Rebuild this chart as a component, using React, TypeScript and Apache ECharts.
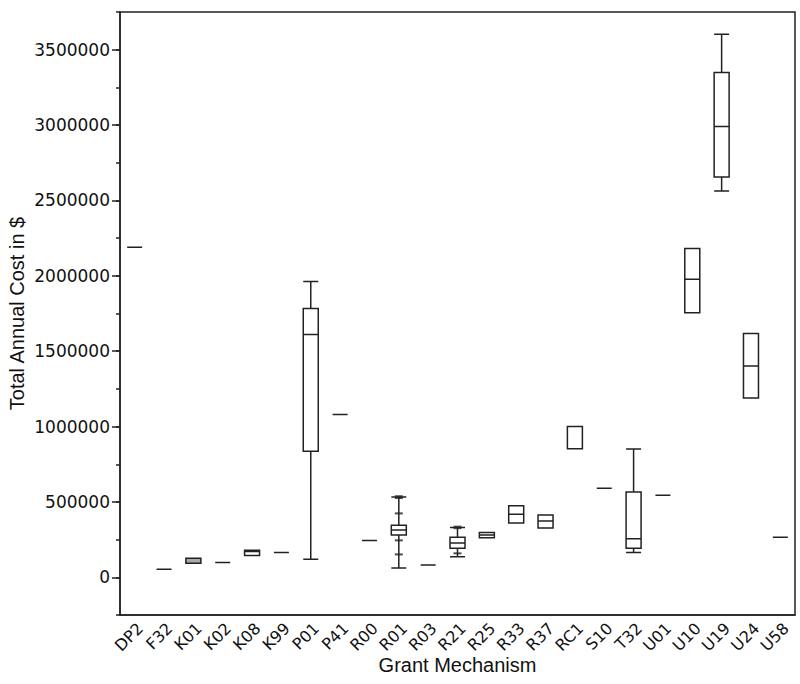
import React, { useEffect, useRef } from "react";
import * as echarts from "echarts";

const categories = ["DP2", "F32", "K01", "K02", "K08", "K99", "P01", "P41", "R00", "R01", "R03", "R21", "R25", "R33", "R37", "RC1", "S10", "T32", "U01", "U10", "U19", "U24", "U58"];
const whiskerLow = [2190000, 53000, 93000, 99000, 144000, 164000, 119000, 1080000, 245000, 62000, 82000, 137000, 263000, 360000, 327000, 853000, 590000, 164000, 544000, 1755000, 2563000, 1189000, 265000];
const q1 = [2190000, 53000, 93000, 99000, 144000, 164000, 837000, 1080000, 245000, 281000, 82000, 192000, 263000, 360000, 327000, 853000, 590000, 192000, 544000, 1755000, 2656000, 1189000, 265000];
const median = [2190000, 53000, 126000, 99000, 172000, 164000, 1611000, 1080000, 245000, 314000, 82000, 227000, 281000, 418000, 373000, 853000, 590000, 256000, 544000, 1977000, 2990000, 1401000, 265000];
const q3 = [2190000, 53000, 126000, 99000, 179000, 164000, 1783000, 1080000, 245000, 345000, 82000, 265000, 298000, 475000, 413000, 1001000, 590000, 566000, 544000, 2181000, 3348000, 1617000, 265000];
const whiskerHigh = [2190000, 53000, 126000, 99000, 179000, 164000, 1962000, 1080000, 245000, 532000, 82000, 331000, 298000, 475000, 413000, 1001000, 590000, 851000, 544000, 2181000, 3602000, 1617000, 265000];
const shadedCategories = ["K01"];

const outlierCats = ["R01", "R01", "R01", "R01", "R01", "R21", "R21", "R21"];
const outlierValues = [538000, 526000, 424000, 245000, 152000, 336000, 326000, 159000];

const yMajorLabels = [0, 500000, 1000000, 1500000, 2000000, 2500000, 3000000, 3500000];

export default function App() {
  const ref = useRef<HTMLDivElement>(null);
  useEffect(() => {
    document.body.style.margin = "0";
    const chart = echarts.init(ref.current!, undefined, { renderer: "svg" });
    const boxData = categories.map((c, i) => {
      const item: any = { value: [whiskerLow[i], q1[i], median[i], q3[i], whiskerHigh[i]] };
      if (shadedCategories.includes(c)) item.itemStyle = { color: "#a9a9a9" };
      return item;
    });
    const outliers = outlierCats.map((c, i) => [c, outlierValues[i]]);
    const axisColor = "#222";
    const tickFont = "DejaVu Sans";
    const titleFont = "Liberation Sans";
    chart.setOption({
      animation: false,
      backgroundColor: "#fff",
      grid: {
        left: 120,
        right: 5,
        top: 12,
        bottom: 69,
        containLabel: false,
        outerBoundsMode: "none",
        show: true,
        borderColor: axisColor,
        borderWidth: 1.5,
        backgroundColor: "transparent",
      },
      xAxis: {
        type: "category",
        data: categories,
        boundaryGap: true,
        name: "Grant Mechanism",
        nameLocation: "middle",
        nameGap: 40,
        nameMoveOverlap: false,
        nameTextStyle: { fontFamily: titleFont, fontSize: 20, color: "#111" },
        axisLine: { show: true, onZero: false, lineStyle: { color: axisColor, width: 1.5 } },
        axisTick: { show: false },
        axisLabel: { rotate: 45, fontFamily: tickFont, fontSize: 16, color: "#111", margin: 5, interval: 0, align: "right", verticalAlign: "top" },
        splitLine: { show: false },
      },
      yAxis: [
        {
          type: "value",
          min: -250000,
          max: 3750000,
          interval: 250000,
          name: "Total Annual Cost in $",
          nameLocation: "middle",
          nameGap: 93,
          nameMoveOverlap: false,
          nameTextStyle: { fontFamily: titleFont, fontSize: 20, color: "#111" },
          axisLine: { show: true, lineStyle: { color: axisColor, width: 1.5 } },
          axisTick: { show: true, length: 4, lineStyle: { color: axisColor, width: 1.5 } },
          axisLabel: {
            fontFamily: tickFont,
            fontSize: 17,
            color: "#111",
            margin: 10,
            formatter: (v: number) => (v >= 0 && v % 500000 === 0 ? String(v) : ""),
          },
          splitLine: { show: false },
        },
        {
          type: "value",
          min: -250000,
          max: 3750000,
          interval: 250000,
          position: "left",
          axisLine: { show: false },
          axisTick: { show: true, length: 8, customValues: yMajorLabels, lineStyle: { color: axisColor, width: 1.5 } },
          axisLabel: { show: false },
          splitLine: { show: false },
        },
      ],
      series: [
        {
          type: "boxplot",
          yAxisIndex: 0,
          data: boxData,
          boxWidth: [15, 15],
          itemStyle: { color: "#fff", borderColor: axisColor, borderWidth: 1.5 },
          emphasis: { disabled: true },
          silent: true,
        },
        {
          type: "scatter",
          yAxisIndex: 0,
          data: outliers,
          symbol: "rect",
          symbolSize: [8, 2],
          itemStyle: { color: axisColor },
          silent: true,
          z: 5,
        },
      ],
    });
    return () => chart.dispose();
  }, []);
  return <div ref={ref} style={{ width: 800, height: 684 }} />;
}
